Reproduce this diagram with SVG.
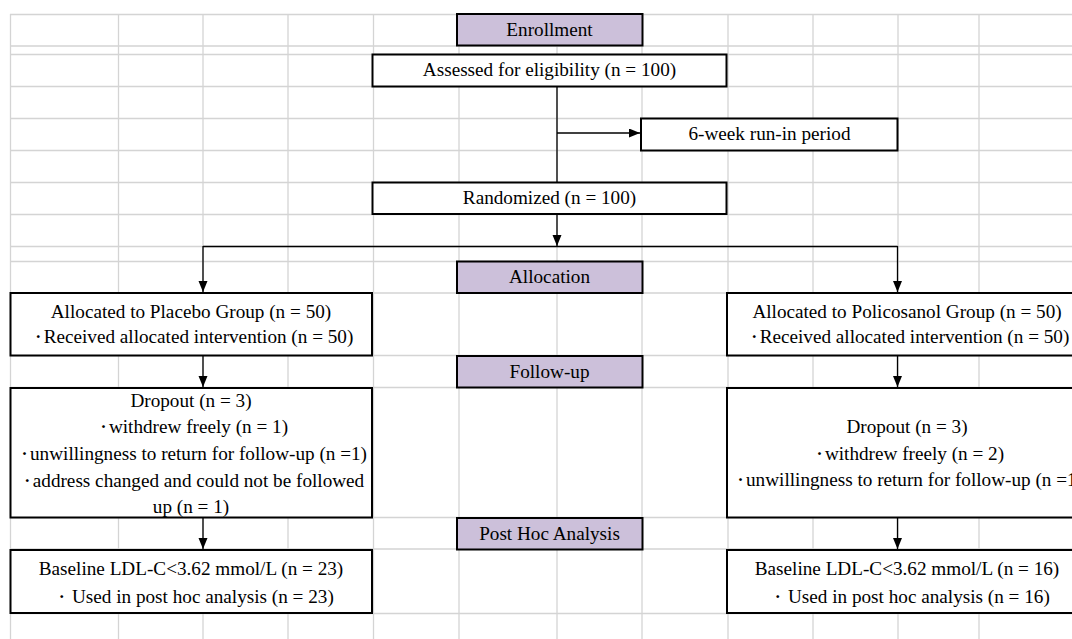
<svg xmlns="http://www.w3.org/2000/svg" width="1072" height="639" viewBox="0 0 1072 639">
<style>
.grid{stroke:#D4D4D4;stroke-width:1.3;fill:none}
.box{fill:#FFFFFF;stroke:#000000;stroke-width:2}
.hdr{fill:#CCC0DA;stroke:#000000;stroke-width:2}
.t{font-family:"Liberation Serif",serif;font-size:19.2px;fill:#000000;text-anchor:middle}
.dot{font-family:"Noto Sans CJK JP",sans-serif;font-size:11px;font-weight:bold}
.conn{stroke:#000000;stroke-width:1.3;fill:none}
</style>
<defs>
<marker id="arr" markerUnits="userSpaceOnUse" markerWidth="12" markerHeight="10" refX="11" refY="4.5" orient="auto">
<path d="M0,0 L11,4.5 L0,9 Z" fill="#000000"/>
</marker>
</defs>
<rect x="0" y="0" width="1072" height="639" fill="#FFFFFF"/>
<g id="grid">
<path class="grid" d="M10,14.5H1072M10,46H1072M10,54.5H1072M10,86.5H1072M10,118.5H1072M10,150.5H1072M10,182.5H1072M10,214.5H1072M10,246.5H1072M10,261.5H1072M10,293H1072M10,355.5H1072M10,387.5H1072M10,517.5H1072M10,549H1072M10,613.5H1072"/>
<path class="grid" d="M10.5,14V639M118.5,14V639M203,14V639M288,14V639M373.5,14V639M459,14V639M557,14V639M642,14V639M728,14V639M813,14V639M898,14V639M979,14V639"/>
</g>
<g id="connectors">
<path class="conn" d="M557,87V182"/>
<path class="conn" d="M557,133H640" marker-end="url(#arr)"/>
<path class="conn" d="M557,215V246" marker-end="url(#arr)"/>
<path class="conn" d="M203,246.5H897.5"/>
<path class="conn" d="M203,246V292" marker-end="url(#arr)"/>
<path class="conn" d="M897.5,246V292" marker-end="url(#arr)"/>
<path class="conn" d="M203,356V387" marker-end="url(#arr)"/>
<path class="conn" d="M897.5,356V387" marker-end="url(#arr)"/>
<path class="conn" d="M203,518V549" marker-end="url(#arr)"/>
<path class="conn" d="M897.5,518V549" marker-end="url(#arr)"/>
</g>
<g id="enrollment">
<rect class="hdr" x="457" y="14" width="185.5" height="31.5"/>
<text class="t" x="549.5" y="36">Enrollment</text>
</g>
<g id="assessed">
<rect class="box" x="372.5" y="54.5" width="354" height="32"/>
<text class="t" x="549.5" y="76">Assessed for eligibility (n = 100)</text>
</g>
<g id="runin">
<rect class="box" x="641" y="118.5" width="256.5" height="32"/>
<text class="t" x="769.5" y="140">6-week run-in period</text>
</g>
<g id="randomized">
<rect class="box" x="372.5" y="182.5" width="354" height="31.5"/>
<text class="t" x="549.5" y="204">Randomized (n = 100)</text>
</g>
<g id="allocation">
<rect class="hdr" x="457" y="261.5" width="185.5" height="31.5"/>
<text class="t" x="549.5" y="283">Allocation</text>
</g>
<g id="placebo">
<rect class="box" x="10.5" y="293" width="361.5" height="62.5"/>
<text class="t" x="191" y="318">Allocated to Placebo Group (n = 50)</text>
<text class="t" x="193" y="343"><tspan class="dot" dy="-2">・</tspan><tspan dy="2">Received allocated intervention (n = 50)</tspan></text>
</g>
<g id="policosanol">
<rect class="box" x="727" y="293" width="362" height="62.5"/>
<text class="t" x="907" y="318">Allocated to Policosanol Group (n = 50)</text>
<text class="t" x="909" y="343"><tspan class="dot" dy="-2">・</tspan><tspan dy="2">Received allocated intervention (n = 50)</tspan></text>
</g>
<g id="followup">
<rect class="hdr" x="457" y="356" width="185.5" height="31.5"/>
<text class="t" x="549.5" y="378">Follow-up</text>
</g>
<g id="dropout-placebo">
<rect class="box" x="10.5" y="388" width="361.5" height="129.5"/>
<text class="t" x="191" y="407">Dropout (n = 3)</text>
<text class="t" x="193" y="433"><tspan class="dot" dy="-2">・</tspan><tspan dy="2">withdrew freely (n = 1)</tspan></text>
<text class="t" x="193" y="460"><tspan class="dot" dy="-2">・</tspan><tspan dy="2">unwillingness to return for follow-up (n =1)</tspan></text>
<text class="t" x="193" y="487"><tspan class="dot" dy="-2">・</tspan><tspan dy="2">address changed and could not be followed</tspan></text>
<text class="t" x="191" y="513">up (n = 1)</text>
</g>
<g id="dropout-policosanol">
<rect class="box" x="727" y="388" width="362" height="129.5"/>
<text class="t" x="907" y="433">Dropout (n = 3)</text>
<text class="t" x="909" y="460"><tspan class="dot" dy="-2">・</tspan><tspan dy="2">withdrew freely (n = 2)</tspan></text>
<text class="t" x="909" y="486"><tspan class="dot" dy="-2">・</tspan><tspan dy="2">unwillingness to return for follow-up (n =1)</tspan></text>
</g>
<g id="posthoc">
<rect class="hdr" x="457" y="518" width="185.5" height="31.5"/>
<text class="t" x="549.5" y="540">Post Hoc Analysis</text>
</g>
<g id="baseline-placebo">
<rect class="box" x="10.5" y="550" width="361.5" height="63"/>
<text class="t" x="191" y="575">Baseline LDL-C&lt;3.62 mmol/L (n = 23)</text>
<text class="t" x="195" y="603"><tspan class="dot" dy="-2">・</tspan><tspan dy="2"> Used in post hoc analysis (n = 23)</tspan></text>
</g>
<g id="baseline-policosanol">
<rect class="box" x="727" y="550" width="362" height="63"/>
<text class="t" x="907" y="575">Baseline LDL-C&lt;3.62 mmol/L (n = 16)</text>
<text class="t" x="911" y="603"><tspan class="dot" dy="-2">・</tspan><tspan dy="2"> Used in post hoc analysis (n = 16)</tspan></text>
</g>
</svg>
